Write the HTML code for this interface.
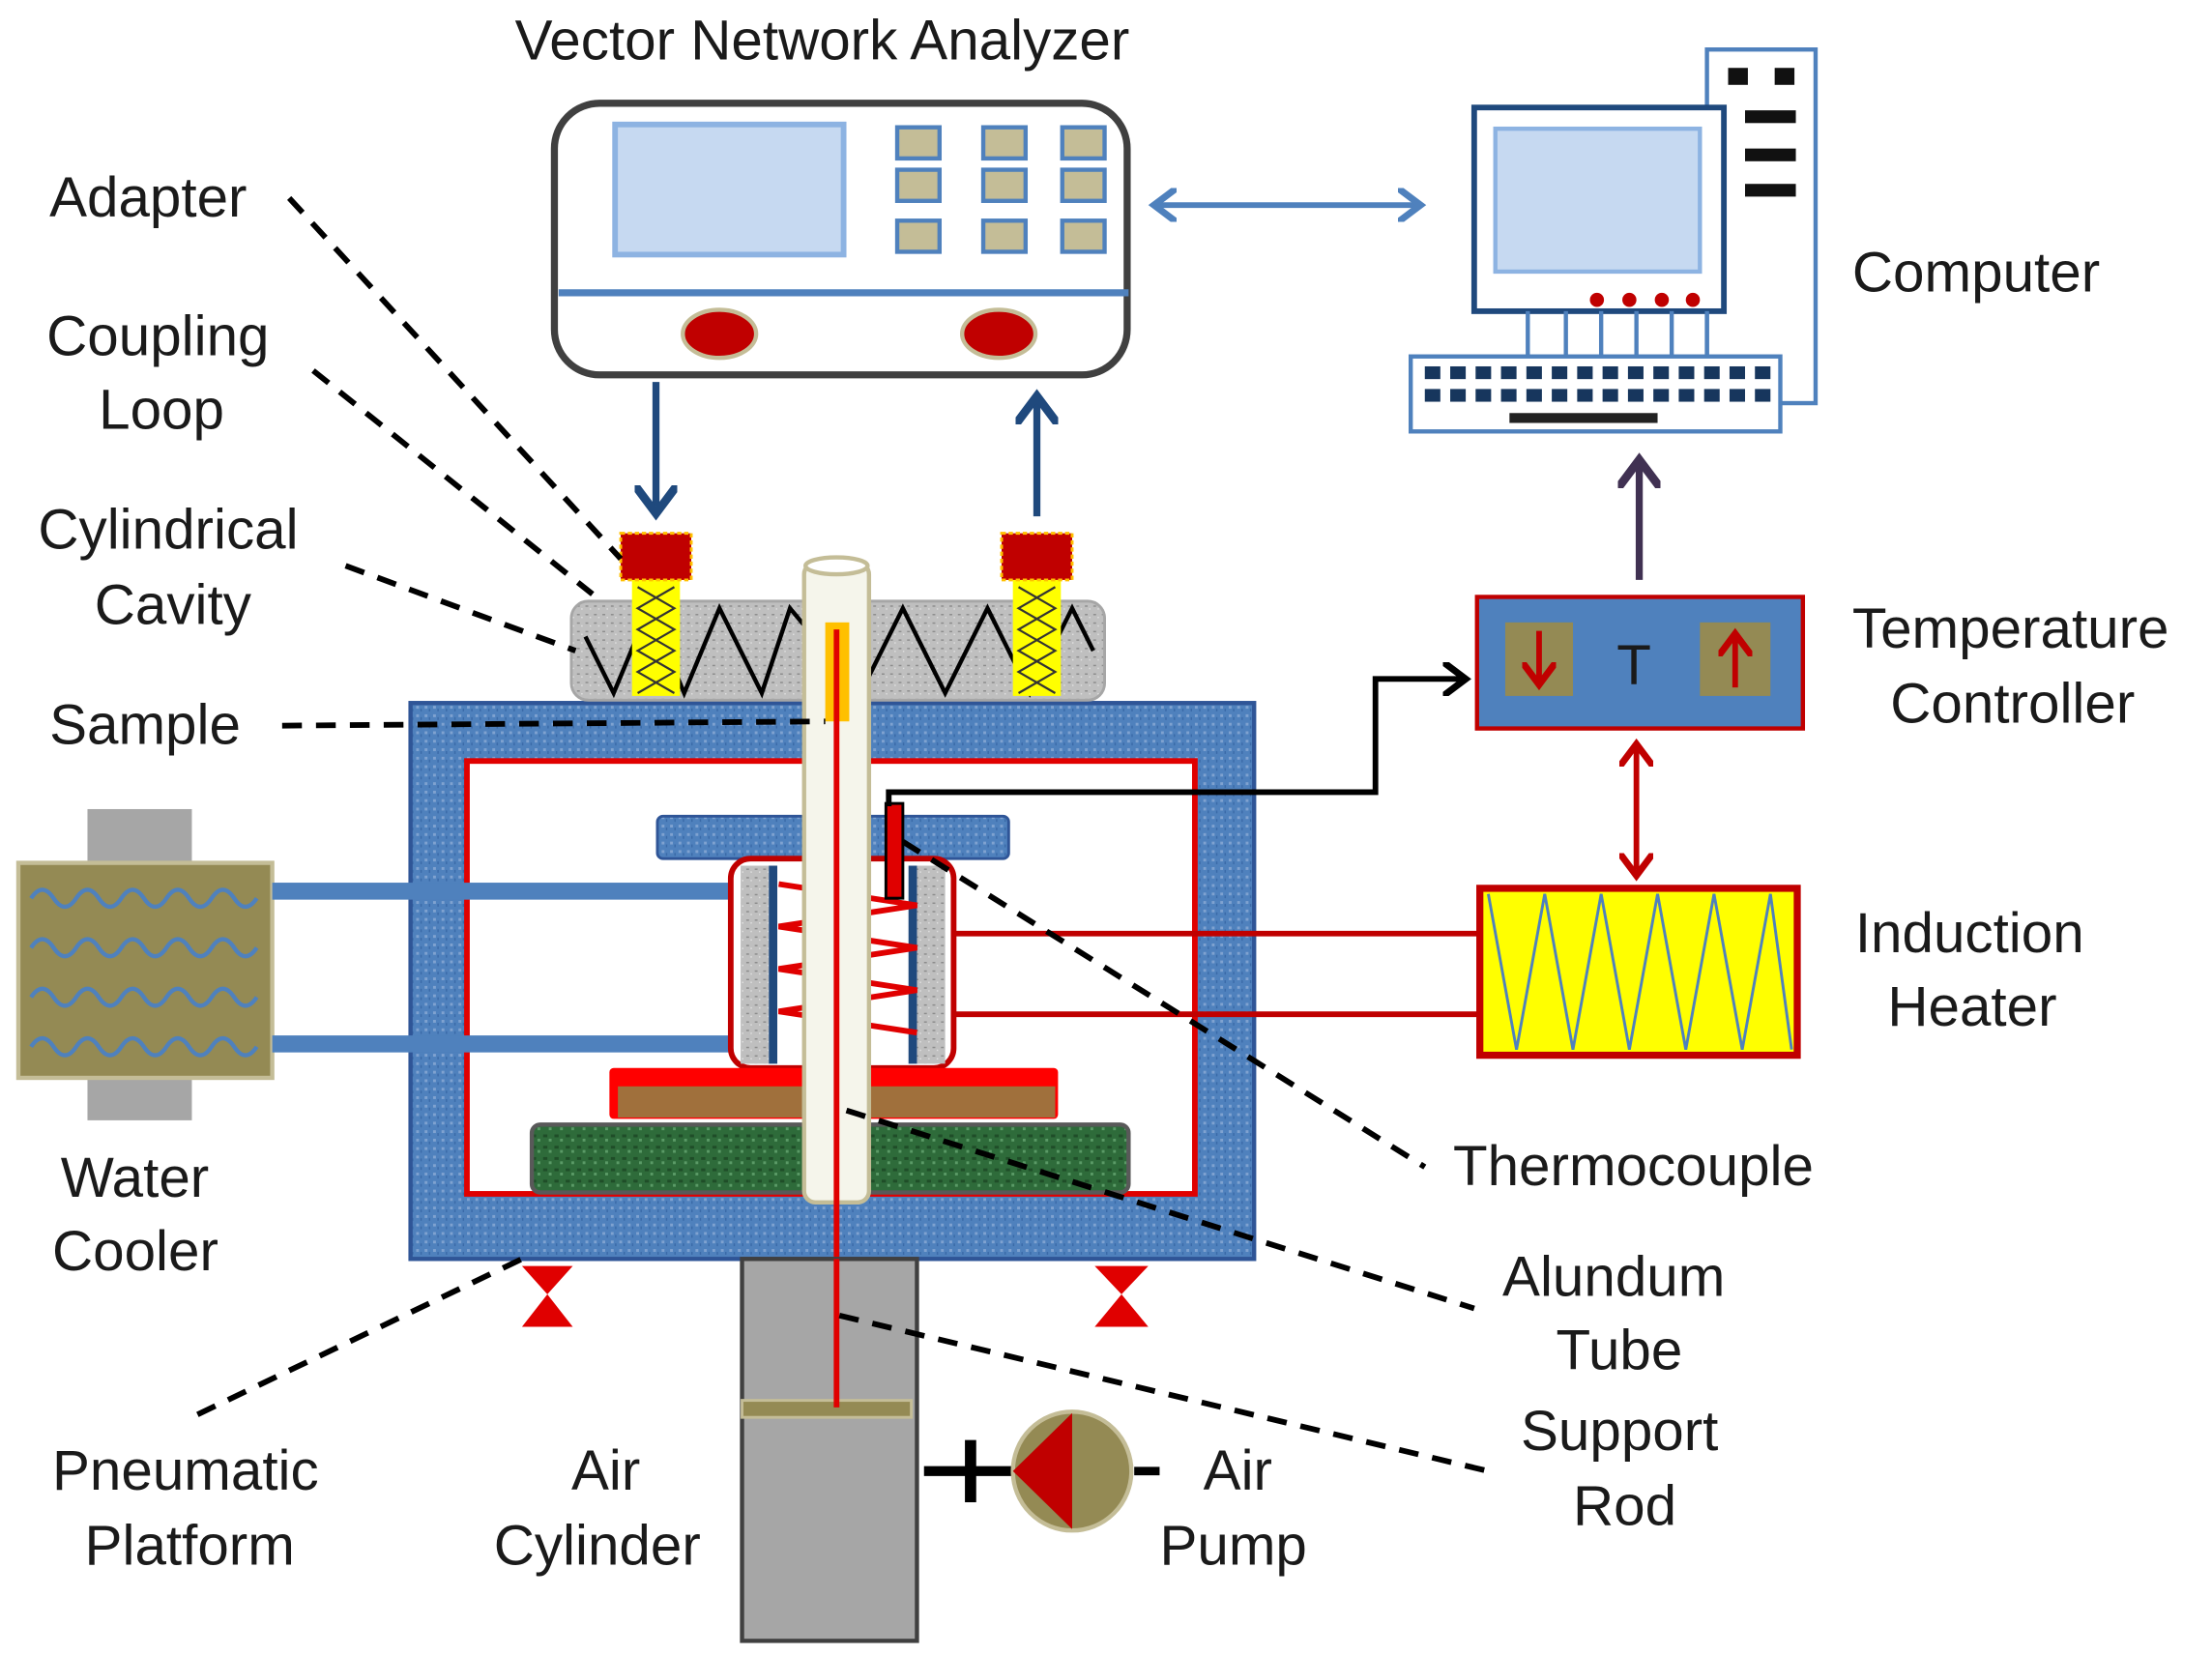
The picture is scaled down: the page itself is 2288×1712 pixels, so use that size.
<!DOCTYPE html>
<html><head><meta charset="utf-8"><style>
html,body{margin:0;padding:0;background:#fff}
svg{display:block}
text{font-family:"Liberation Sans",sans-serif;font-size:40px;fill:#1a1a1a}
</style></head><body>
<svg width="2288" height="1712" viewBox="0 0 1568 1170" preserveAspectRatio="none" xmlns="http://www.w3.org/2000/svg">
<defs>
<marker id="ab" markerWidth="6" markerHeight="6" refX="3" refY="3" orient="auto-start-reverse" markerUnits="strokeWidth"><path d="M0,0 L4,3 L0,6" fill="none" stroke="#4f81bd" stroke-width="1.2"/></marker>
<marker id="ad" markerWidth="6" markerHeight="6" refX="3" refY="3" orient="auto-start-reverse" markerUnits="strokeWidth"><path d="M0,0 L4,3 L0,6" fill="none" stroke="#1f497d" stroke-width="1.2"/></marker>
<marker id="ap" markerWidth="6" markerHeight="6" refX="3" refY="3" orient="auto-start-reverse" markerUnits="strokeWidth"><path d="M0,0 L4,3 L0,6" fill="none" stroke="#403152" stroke-width="1.2"/></marker>
<marker id="ar" markerWidth="6" markerHeight="6" refX="3" refY="3" orient="auto-start-reverse" markerUnits="strokeWidth"><path d="M0,0 L4,3 L0,6" fill="none" stroke="#c00000" stroke-width="1.2"/></marker>
<marker id="ak" markerWidth="6" markerHeight="6" refX="3" refY="3" orient="auto-start-reverse" markerUnits="strokeWidth"><path d="M0,0 L4,3 L0,6" fill="none" stroke="#000" stroke-width="1.2"/></marker>
<pattern id="bt" width="6" height="6" patternUnits="userSpaceOnUse"><rect width="6" height="6" fill="#4f81bd"/><rect x="1" y="1" width="2" height="2" fill="#7fa2d0"/><rect x="4" y="3" width="1" height="2" fill="#3a6aa8"/></pattern>
<pattern id="gt" width="6" height="6" patternUnits="userSpaceOnUse"><rect width="6" height="6" fill="#bfbfbf"/><rect x="1" y="2" width="2" height="1" fill="#8c8c8c"/><rect x="4" y="4" width="1" height="1" fill="#e0e0e0"/></pattern>
<pattern id="grt" width="8" height="8" patternUnits="userSpaceOnUse"><rect width="8" height="8" fill="#2e6b3a"/><rect x="1" y="2" width="3" height="2" fill="#1f4d28"/><rect x="5" y="5" width="2" height="2" fill="#5a9a66"/></pattern>
</defs>

<!-- VNA -->
<text x="365" y="42" font-size="38">Vector Network Analyzer</text>
<rect x="393" y="73" width="406" height="192" rx="32" fill="#fff" stroke="#404040" stroke-width="5"/>
<rect x="436" y="88" width="162" height="92" fill="#c6d9f1" stroke="#8db3e2" stroke-width="4"/>
<g fill="#c4bd97" stroke="#4f81bd" stroke-width="3">
<rect x="636" y="90" width="30" height="22"/><rect x="697" y="90" width="30" height="22"/><rect x="753" y="90" width="30" height="22"/>
<rect x="636" y="120" width="30" height="22"/><rect x="697" y="120" width="30" height="22"/><rect x="753" y="120" width="30" height="22"/>
<rect x="636" y="156" width="30" height="22"/><rect x="697" y="156" width="30" height="22"/><rect x="753" y="156" width="30" height="22"/>
</g>
<line x1="396" y1="207" x2="800" y2="207" stroke="#4f81bd" stroke-width="5"/>
<ellipse cx="510" cy="236" rx="26" ry="17" fill="#c00000" stroke="#c4bd97" stroke-width="3"/>
<ellipse cx="708" cy="236" rx="26" ry="17" fill="#c00000" stroke="#c4bd97" stroke-width="3"/>
<line x1="822" y1="145" x2="1003" y2="145" stroke="#4f81bd" stroke-width="4" marker-start="url(#ab)" marker-end="url(#ab)"/>

<!-- Computer -->
<rect x="1210" y="35" width="77" height="250" fill="#fff" stroke="#4f81bd" stroke-width="3"/>
<rect x="1225" y="48" width="14" height="12" fill="#111"/><rect x="1258" y="48" width="14" height="12" fill="#111"/>
<rect x="1237" y="78" width="36" height="9" fill="#111"/><rect x="1237" y="105" width="36" height="9" fill="#111"/><rect x="1237" y="130" width="36" height="9" fill="#111"/>
<rect x="1045" y="76" width="177" height="144" fill="#fff" stroke="#1f497d" stroke-width="4"/>
<rect x="1060" y="91" width="145" height="101" fill="#c6d9f1" stroke="#8db3e2" stroke-width="3"/>
<g fill="#c00000"><circle cx="1132" cy="212" r="5"/><circle cx="1155" cy="212" r="5"/><circle cx="1178" cy="212" r="5"/><circle cx="1200" cy="212" r="5"/></g>
<g stroke="#4f81bd" stroke-width="3"><line x1="1083" y1="220" x2="1083" y2="252"/><line x1="1110" y1="220" x2="1110" y2="252"/><line x1="1135" y1="220" x2="1135" y2="252"/><line x1="1160" y1="220" x2="1160" y2="252"/><line x1="1185" y1="220" x2="1185" y2="252"/><line x1="1210" y1="220" x2="1210" y2="252"/></g>
<rect x="1000" y="252" width="262" height="53" fill="#fff" stroke="#4f81bd" stroke-width="3"/>
<g fill="#17365d">
<rect x="1010" y="259" width="11" height="9"/><rect x="1028" y="259" width="11" height="9"/><rect x="1046" y="259" width="11" height="9"/><rect x="1064" y="259" width="11" height="9"/><rect x="1082" y="259" width="11" height="9"/><rect x="1100" y="259" width="11" height="9"/><rect x="1118" y="259" width="11" height="9"/><rect x="1136" y="259" width="11" height="9"/><rect x="1154" y="259" width="11" height="9"/><rect x="1172" y="259" width="11" height="9"/><rect x="1190" y="259" width="11" height="9"/><rect x="1208" y="259" width="11" height="9"/><rect x="1226" y="259" width="11" height="9"/><rect x="1244" y="259" width="11" height="9"/>
<rect x="1010" y="275" width="11" height="9"/><rect x="1028" y="275" width="11" height="9"/><rect x="1046" y="275" width="11" height="9"/><rect x="1064" y="275" width="11" height="9"/><rect x="1082" y="275" width="11" height="9"/><rect x="1100" y="275" width="11" height="9"/><rect x="1118" y="275" width="11" height="9"/><rect x="1136" y="275" width="11" height="9"/><rect x="1154" y="275" width="11" height="9"/><rect x="1172" y="275" width="11" height="9"/><rect x="1190" y="275" width="11" height="9"/><rect x="1208" y="275" width="11" height="9"/><rect x="1226" y="275" width="11" height="9"/><rect x="1244" y="275" width="11" height="9"/>
<rect x="1070" y="292" width="105" height="7" fill="#222"/>
</g>
<text x="1313" y="206">Computer</text>
<line x1="1162" y1="410" x2="1162" y2="330" stroke="#403152" stroke-width="5" marker-end="url(#ap)"/>

<!-- Temp controller -->
<rect x="1047" y="422" width="231" height="93" fill="#4f81bd" stroke="#c00000" stroke-width="3"/>
<rect x="1067" y="440" width="48" height="52" fill="#948a54"/>
<rect x="1205" y="440" width="50" height="52" fill="#948a54"/>
<line x1="1091" y1="446" x2="1091" y2="480" stroke="#c00000" stroke-width="4" marker-end="url(#ar)"/>
<line x1="1230" y1="486" x2="1230" y2="452" stroke="#c00000" stroke-width="4" marker-end="url(#ar)"/>
<text x="1146" y="484" font-size="42">T</text>
<text x="1313" y="458">Temperature</text>
<text x="1340" y="511">Controller</text>
<line x1="1160" y1="530" x2="1160" y2="615" stroke="#c00000" stroke-width="4" marker-start="url(#ar)" marker-end="url(#ar)"/>

<!-- Induction heater -->
<rect x="1049" y="628" width="225" height="118" fill="#ffff00" stroke="#c00000" stroke-width="5"/>
<polyline points="1055,632 1075,742 1095,632 1115,742 1135,632 1155,742 1175,632 1195,742 1215,632 1235,742 1255,632 1270,742" fill="none" stroke="#4f81bd" stroke-width="2"/>
<text x="1315" y="673">Induction</text>
<text x="1338" y="725">Heater</text>

<!-- Chamber -->
<rect x="291" y="497" width="598" height="393" fill="url(#bt)" stroke="#2f5597" stroke-width="3"/>
<rect x="331" y="538" width="516" height="306" fill="#fff" stroke="#e00000" stroke-width="4"/>
<line x1="675" y1="660" x2="1049" y2="660" stroke="#c00000" stroke-width="4"/>
<line x1="675" y1="717" x2="1049" y2="717" stroke="#c00000" stroke-width="4"/>

<!-- Water cooler -->
<rect x="62" y="572" width="74" height="220" fill="#a6a6a6"/>
<rect x="13" y="610" width="180" height="152" fill="#948a54" stroke="#c4bd97" stroke-width="3"/>
<g fill="none" stroke="#4f81bd" stroke-width="3">
<path d="M22,635 q8,-12 16,0 t16,0 t16,0 t16,0 t16,0 t16,0 t16,0 t16,0 t16,0 t16,0"/>
<path d="M22,670 q8,-12 16,0 t16,0 t16,0 t16,0 t16,0 t16,0 t16,0 t16,0 t16,0 t16,0"/>
<path d="M22,705 q8,-12 16,0 t16,0 t16,0 t16,0 t16,0 t16,0 t16,0 t16,0 t16,0 t16,0"/>
<path d="M22,740 q8,-12 16,0 t16,0 t16,0 t16,0 t16,0 t16,0 t16,0 t16,0 t16,0 t16,0"/>
</g>
<rect x="193" y="624" width="330" height="12" fill="#4f81bd"/>
<rect x="193" y="732" width="330" height="12" fill="#4f81bd"/>

<!-- Pedestal / crucible -->
<rect x="466" y="577" width="249" height="30" rx="4" fill="url(#bt)" stroke="#2f5597" stroke-width="2"/>
<rect x="518" y="607" width="158" height="148" rx="14" fill="#fff" stroke="#c00000" stroke-width="4"/>
<rect x="525" y="612" width="20" height="140" fill="url(#gt)"/>
<rect x="650" y="612" width="20" height="140" fill="url(#gt)"/>
<rect x="545" y="612" width="6" height="140" fill="#1f497d"/><rect x="644" y="612" width="6" height="140" fill="#1f497d"/>
<polyline points="552,625 650,640 552,655 650,670 552,685 650,700 552,715 650,730" fill="none" stroke="#e00000" stroke-width="4"/>
<rect x="432" y="755" width="318" height="36" rx="3" fill="#ff0000"/>
<rect x="438" y="768" width="310" height="22" fill="#a0703c"/>
<rect x="377" y="795" width="423" height="48" rx="6" fill="url(#grt)" stroke="#595959" stroke-width="3"/>

<!-- Cavity -->
<rect x="405" y="425" width="378" height="70" rx="12" fill="url(#gt)" stroke="#a6a6a6" stroke-width="2"/>
<polyline points="415,450 435,490 460,430 485,490 510,430 540,490 560,430 610,490 640,430 670,490 700,430 730,490 760,430 775,460" fill="none" stroke="#000" stroke-width="3"/>
<rect x="448" y="410" width="34" height="82" fill="#ffff00"/>
<rect x="718" y="410" width="34" height="82" fill="#ffff00"/>
<g stroke="#333" stroke-width="1.5" fill="none"><polyline points="452,415 478,430 452,445 478,460 452,475 478,490"/><polyline points="478,415 452,430 478,445 452,460 478,475 452,490"/>
<polyline points="722,415 748,430 722,445 748,460 722,475 748,490"/><polyline points="748,415 722,430 748,445 722,460 748,475 722,490"/></g>
<rect x="440" y="377" width="50" height="33" fill="#c00000" stroke="#ffc000" stroke-width="2" stroke-dasharray="3,2"/>
<rect x="710" y="377" width="50" height="33" fill="#c00000" stroke="#ffc000" stroke-width="2" stroke-dasharray="3,2"/>
<line x1="465" y1="270" x2="465" y2="358" stroke="#1f497d" stroke-width="5" marker-end="url(#ad)"/>
<line x1="735" y1="365" x2="735" y2="285" stroke="#1f497d" stroke-width="5" marker-end="url(#ad)"/>

<!-- Alundum tube -->
<rect x="570" y="398" width="46" height="452" rx="8" fill="#f5f5eb" stroke="#c4bd97" stroke-width="3"/>
<ellipse cx="593" cy="400" rx="22" ry="6" fill="#fff" stroke="#c4bd97" stroke-width="3"/>
<rect x="585" y="440" width="17" height="70" fill="#ffc000"/>
<line x1="593" y1="445" x2="593" y2="995" stroke="#e00000" stroke-width="4"/>

<!-- Thermocouple -->
<rect x="628" y="568" width="12" height="67" fill="#e00000" stroke="#000" stroke-width="2"/>
<polyline points="630,570 630,560 975,560 975,480 1035,480" fill="none" stroke="#000" stroke-width="4" marker-end="url(#ak)"/>

<!-- Feet -->
<polygon points="370,895 406,895 388,915 406,938 370,938 388,915" fill="#e00000"/>
<polygon points="776,895 814,895 795,915 814,938 776,938 795,915" fill="#e00000"/>

<!-- Air cylinder -->
<rect x="526" y="890" width="124" height="270" fill="#a6a6a6" stroke="#404040" stroke-width="3"/>
<rect x="526" y="990" width="120" height="12" fill="#948a54" stroke="#c4bd97" stroke-width="2"/>
<line x1="593" y1="890" x2="593" y2="995" stroke="#e00000" stroke-width="4"/>

<!-- Pump -->
<line x1="655" y1="1040" x2="720" y2="1040" stroke="#000" stroke-width="7"/>
<line x1="688" y1="1018" x2="688" y2="1062" stroke="#000" stroke-width="8"/>
<circle cx="760" cy="1040" r="42" fill="#948a54" stroke="#c4bd97" stroke-width="3"/>
<path d="M760,999 L760,1081 L718,1040 Z" fill="#c00000"/>
<line x1="804" y1="1040" x2="822" y2="1040" stroke="#000" stroke-width="6"/>

<!-- Dashed leaders -->
<g stroke="#000" stroke-width="4" stroke-dasharray="14,10" fill="none">
<line x1="205" y1="140" x2="440" y2="395"/>
<line x1="222" y1="262" x2="420" y2="420"/>
<line x1="245" y1="400" x2="408" y2="460"/>
<line x1="200" y1="513" x2="585" y2="510"/>
<line x1="640" y1="595" x2="1010" y2="825"/>
<line x1="600" y1="785" x2="1045" y2="925"/>
<line x1="595" y1="930" x2="1055" y2="1040"/>
<line x1="140" y1="1000" x2="370" y2="890"/>
</g>

<!-- Labels -->
<text x="35" y="153">Adapter</text>
<text x="33" y="251">Coupling</text>
<text x="70" y="303">Loop</text>
<text x="27" y="388">Cylindrical</text>
<text x="67" y="441">Cavity</text>
<text x="35" y="526">Sample</text>
<text x="43" y="846">Water</text>
<text x="37" y="898">Cooler</text>
<text x="37" y="1053">Pneumatic</text>
<text x="60" y="1106">Platform</text>
<text x="405" y="1053">Air</text>
<text x="350" y="1106">Cylinder</text>
<text x="853" y="1053">Air</text>
<text x="822" y="1106">Pump</text>
<text x="1030" y="838">Thermocouple</text>
<text x="1065" y="916">Alundum</text>
<text x="1103" y="968">Tube</text>
<text x="1078" y="1025">Support</text>
<text x="1115" y="1078">Rod</text>
</svg>
</body></html>
